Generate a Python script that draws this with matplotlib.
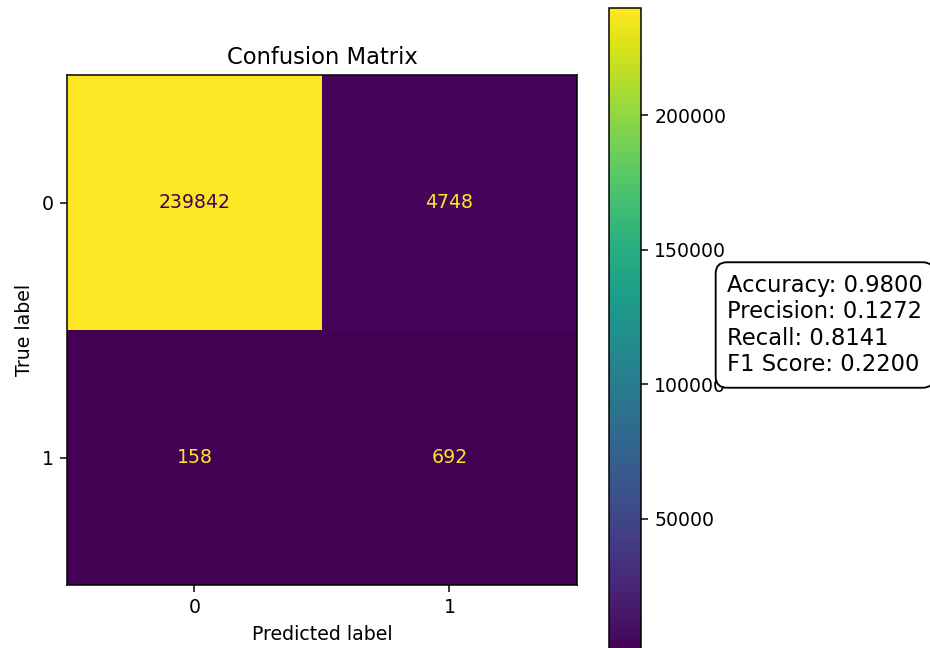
import numpy as np
import matplotlib
matplotlib.use("Agg")
import matplotlib.pyplot as plt

# confusion matrix counts (rows: true, cols: predicted)
class_labels = ["0", "1"]
cm = np.array([[239842, 4748],
               [158, 692]])

accuracy = 0.9800
precision = 0.1272
recall = 0.8141
f1 = 0.2200

W, H = 930, 648
dpi = 136
fig = plt.figure(figsize=(W / dpi, H / dpi), dpi=dpi)

ax = fig.add_axes([67 / W, 1 - 585 / H, 510 / W, 510 / H])
cax = fig.add_axes([609 / W, 1 - 653 / H, 32 / W, 645 / H])

cmap = plt.get_cmap("viridis")
im = ax.imshow(cm, interpolation="nearest", cmap=cmap)

# text colour like sklearn's ConfusionMatrixDisplay
thresh = (cm.max() + cm.min()) / 2.0
for i in range(cm.shape[0]):
    for j in range(cm.shape[1]):
        color = cmap(0) if cm[i, j] > thresh else cmap(1.0)
        ax.text(j, i, str(cm[i, j]), ha="center", va="center", color=color)

fig.colorbar(im, cax=cax)

ax.set_xticks(np.arange(len(class_labels)))
ax.set_yticks(np.arange(len(class_labels)))
ax.set_xticklabels(class_labels)
ax.set_yticklabels(class_labels)
ax.set_xlabel("Predicted label")
ax.set_ylabel("True label")
ax.set_title("Confusion Matrix")

metrics = (f"Accuracy: {accuracy:.4f}\nPrecision: {precision:.4f}\n"
           f"Recall: {recall:.4f}\nF1 Score: {f1:.4f}")
fig.text(727 / W, 1 - 325 / H, metrics, fontsize=12, ha="left", va="center",
         bbox=dict(boxstyle="round,pad=0.5", facecolor="white", edgecolor="black"))

fig.savefig("out.png", dpi=dpi)
